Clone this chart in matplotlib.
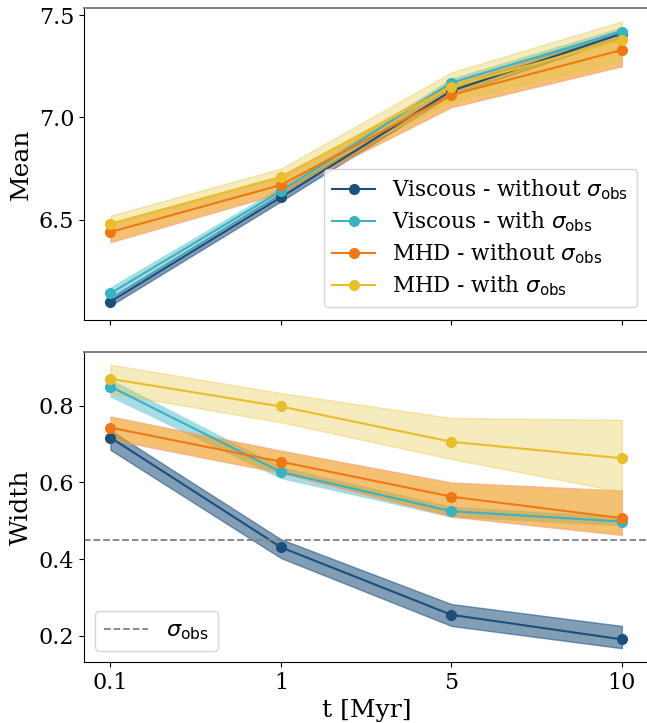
import matplotlib
matplotlib.use("Agg")
import matplotlib.pyplot as plt
import numpy as np

plt.rcParams['font.family'] = 'DejaVu Serif'
plt.rcParams['mathtext.fontset'] = 'dejavusans'

tick_labels = ["0.1", "1", "5", "10"]

# Mean panel
mean_visc_wo = [6.10, 6.61, 7.13, 7.41]
mean_visc_wo_lo = [6.08, 6.59, 7.11, 7.39]
mean_visc_wo_hi = [6.12, 6.63, 7.15, 7.43]
mean_visc_w = [6.14, 6.64, 7.17, 7.42]
mean_visc_w_lo = [6.11, 6.62, 7.15, 7.40]
mean_visc_w_hi = [6.17, 6.66, 7.19, 7.44]
mean_mhd_wo = [6.44, 6.67, 7.11, 7.33]
mean_mhd_wo_lo = [6.39, 6.63, 7.05, 7.25]
mean_mhd_wo_hi = [6.48, 6.71, 7.17, 7.40]
mean_mhd_w = [6.48, 6.71, 7.15, 7.38]
mean_mhd_w_lo = [6.44, 6.67, 7.08, 7.28]
mean_mhd_w_hi = [6.52, 6.75, 7.22, 7.47]

# Width panel
wid_visc_wo = [0.717, 0.431, 0.255, 0.191]
wid_visc_wo_lo = [0.685, 0.403, 0.226, 0.168]
wid_visc_wo_hi = [0.736, 0.452, 0.283, 0.226]
wid_visc_w = [0.850, 0.627, 0.525, 0.498]
wid_visc_w_lo = [0.824, 0.611, 0.511, 0.488]
wid_visc_w_hi = [0.868, 0.640, 0.537, 0.510]
wid_mhd_wo = [0.743, 0.654, 0.563, 0.507]
wid_mhd_wo_lo = [0.712, 0.625, 0.511, 0.463]
wid_mhd_wo_hi = [0.772, 0.683, 0.600, 0.579]
wid_mhd_w = [0.870, 0.798, 0.706, 0.663]
wid_mhd_w_lo = [0.833, 0.757, 0.661, 0.576]
wid_mhd_w_hi = [0.907, 0.833, 0.768, 0.763]

sigma_obs = 0.45

labels = [r"Viscous - without $\sigma_{\rm obs}$", r"Viscous - with $\sigma_{\rm obs}$",
          r"MHD - without $\sigma_{\rm obs}$", r"MHD - with $\sigma_{\rm obs}$"]
colors = ["#1b4f7c", "#3ab2c2", "#f07814", "#e8be2a"]
fill_colors = ["#1b4f7c", "#3ab2c2", "#ee9c1c", "#e4c640"]
edge_colors = ["#1b4f7c", "#8fd3dc", "#f6a07a", "#e8c33a"]
alphas = [0.55, 0.45, 0.62, 0.35]

x = np.arange(len(tick_labels))

fig = plt.figure(figsize=(6.47, 7.23), dpi=100)
ax1 = fig.add_axes([84/647, 1-320/723, 566/647, 312/723])
ax2 = fig.add_axes([84/647, 1-662/723, 566/647, 310/723])

mean_sets = [(mean_visc_wo, mean_visc_wo_lo, mean_visc_wo_hi),
             (mean_visc_w, mean_visc_w_lo, mean_visc_w_hi),
             (mean_mhd_wo, mean_mhd_wo_lo, mean_mhd_wo_hi),
             (mean_mhd_w, mean_mhd_w_lo, mean_mhd_w_hi)]
wid_sets = [(wid_visc_wo, wid_visc_wo_lo, wid_visc_wo_hi),
            (wid_visc_w, wid_visc_w_lo, wid_visc_w_hi),
            (wid_mhd_wo, wid_mhd_wo_lo, wid_mhd_wo_hi),
            (wid_mhd_w, wid_mhd_w_lo, wid_mhd_w_hi)]

for ax, sets in ((ax1, mean_sets), (ax2, wid_sets)):
    for (m, lo, hi), c, fc, ec, a, lab in zip(sets, colors, fill_colors, edge_colors, alphas, labels):
        ax.fill_between(x, lo, hi, facecolor=fc, edgecolor=ec, alpha=a, lw=1)
        ax.plot(x, m, '-o', color=c, label=lab, ms=7, lw=1.5)

ax2.axhline(sigma_obs, color='gray', ls='--', lw=1.3, label=r"$\sigma_{\rm obs}$")

for ax in (ax1, ax2):
    ax.set_xticks(x)
    ax.set_xlim(-0.155, 3.165)
    ax.tick_params(labelsize=16)
    ax.spines['top'].set_color('gray')
    ax.spines['right'].set_color('gray')
    ax.spines['top'].set_linewidth(1.4)
    ax.spines['right'].set_linewidth(1.4)

ax1.set_xticklabels([])
ax2.set_xticklabels(tick_labels)
ax1.set_ylim(6.01, 7.535)
ax1.set_yticks([6.5, 7.0, 7.5])
ax2.set_ylim(0.132, 0.94)
ax2.set_yticks([0.2, 0.4, 0.6, 0.8])

ax1.set_ylabel("Mean", fontsize=18)
ax2.set_ylabel("Width", fontsize=18)
ax2.set_xlabel("t [Myr]", fontsize=18)

h, l = ax1.get_legend_handles_labels()
ax1.legend(h, l, loc='lower right', fontsize=15.5, handlelength=2.0,
           borderaxespad=0.6, labelspacing=0.35)
h2, l2 = ax2.get_legend_handles_labels()
ax2.legend([h2[-1]], [l2[-1]], loc='lower left', fontsize=16, handlelength=2.0)

fig.savefig("out.png", dpi=100)
